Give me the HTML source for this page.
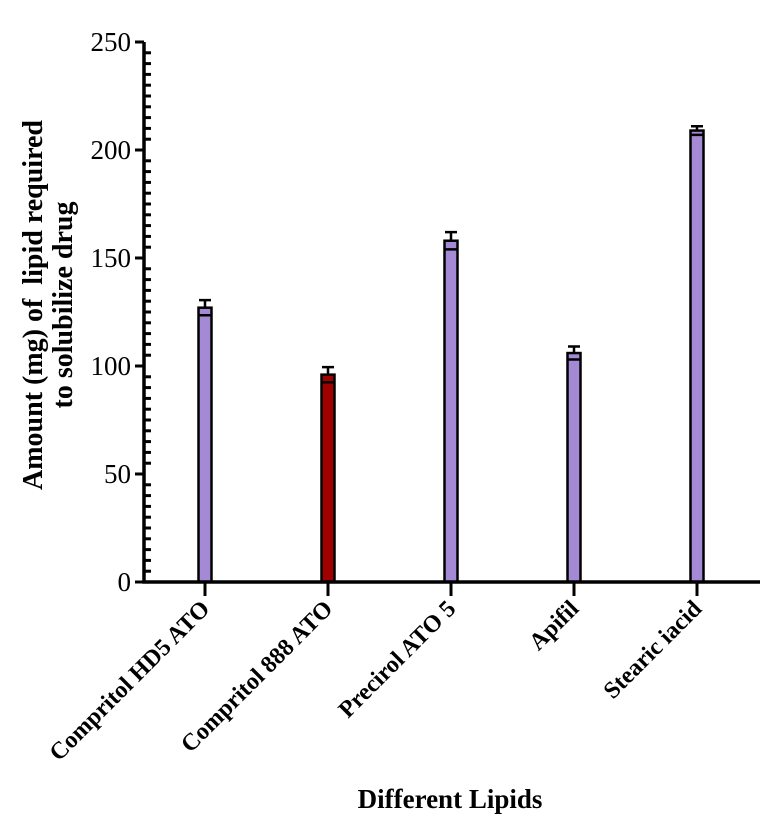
<!DOCTYPE html>
<html><head><meta charset="utf-8"><style>
body{margin:0;background:#fff;}
svg{display:block;font-family:"Liberation Serif",serif;}
</style></head><body>
<svg id="chart" width="768" height="828"></svg>
<script>
const categories=["Compritol HD5 ATO","Compritol 888 ATO","Precirol ATO 5","Apifil","Stearic iacid"];
const values=[127,96,158,106,209];
const errors=[3.5,3.5,4,3,2];
const colors=["#a48ad4","#a00000","#a48ad4","#a48ad4","#a48ad4"];
const yTicks=[0,50,100,150,200,250];
const NS="http://www.w3.org/2000/svg";
const svg=document.getElementById('chart');
const x0=144,y0=582,yTop=42,xEnd=760;
const yScale=v=>y0-(v/250)*(y0-yTop);
const xScale=i=>205+i*123;
function mk(t,a,txt){const e=document.createElementNS(NS,t);for(const k in a)e.setAttribute(k,a[k]);if(txt!=null)e.textContent=txt;svg.appendChild(e);return e;}
for(let v=5;v<250;v+=5){if(v%50===0)continue;
const t=mk('line',{x1:x0,x2:x0+7,y1:yScale(v),y2:yScale(v),stroke:'#000','stroke-width':3});

}
yTicks.forEach(v=>{
const t=mk('line',{x1:x0-9,x2:x0,y1:yScale(v),y2:yScale(v),stroke:'#000','stroke-width':3});


const l=mk('text',{x:x0-13,y:yScale(v)+9,'text-anchor':'end','font-size':27},v);

});
categories.forEach((c,i)=>{
const cx=xScale(i),top=yScale(values[i]),et=yScale(values[i]+errors[i]);
const b=mk('rect',{x:cx-6.5,y:top,width:13,height:y0-top,fill:colors[i],stroke:'#000','stroke-width':2.5});


const e=mk('path',{d:`M${cx},${top} V${et} M${cx-6},${et} H${cx+6} M${cx-6},${yScale(values[i]-errors[i])} H${cx+6}`,stroke:'#000','stroke-width':2.5,fill:'none'});


const t=mk('line',{x1:cx,x2:cx,y1:y0,y2:y0+14,stroke:'#000','stroke-width':3});


const l=mk('text',{x:cx+6,y:y0+28,'text-anchor':'end','font-size':24,'font-weight':'bold',transform:`rotate(-45 ${cx+6} ${y0+28})`},c);

});
const ax=mk('path',{d:`M${x0},${yTop} V${y0} H${xEnd}`,stroke:'#000','stroke-width':3.5,fill:'none'});


const xt=mk('text',{x:450,y:808,'text-anchor':'middle','font-size':27,'font-weight':'bold'},'Different Lipids');


const yt=mk('text',{'text-anchor':'middle','font-size':28,'font-weight':'bold',transform:'translate(42,305) rotate(-90)'});


yt.setAttributeNS('http://www.w3.org/XML/1998/namespace','xml:space','preserve');
const s1=document.createElementNS(NS,'tspan');s1.setAttribute('x',0);s1.setAttribute('y',0);s1.textContent='Amount (mg) of  lipid required';yt.appendChild(s1);
const s2=document.createElementNS(NS,'tspan');s2.setAttribute('x',0);s2.setAttribute('y',30);s2.textContent='to solubilize drug';yt.appendChild(s2);
</script>
</body></html>
